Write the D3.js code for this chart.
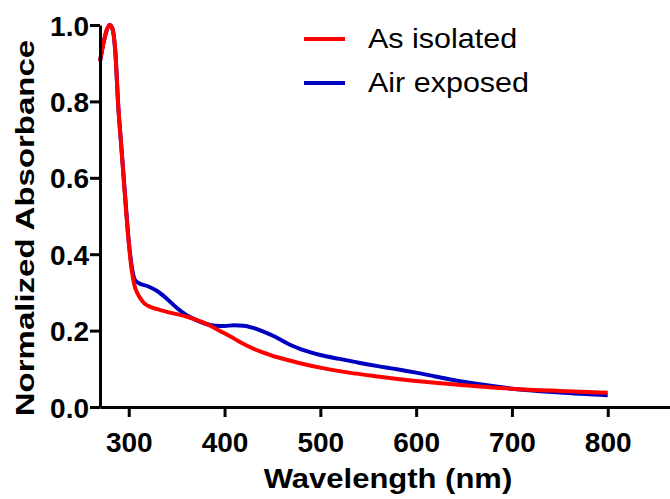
<!DOCTYPE html>
<html>
<head>
<meta charset="utf-8">
<script src="https://cdn.jsdelivr.net/npm/d3@7"></script>
<style>
  body { margin: 0; background: #fff; }
  svg { display: block; font-family: "Liberation Sans", Arial, sans-serif; }
</style>
</head>
<body>
<svg width="670" height="499"></svg>
<script>
(function () {
    "use strict";

    // Wavelength (nm) / normalized absorbance
    var isolatedNm = [270, 273, 276, 280, 283, 286, 289, 292, 296, 300, 303, 306, 309, 312, 316, 320,
        330, 340, 350, 360, 370, 380, 390, 400, 410, 420, 430, 440, 450, 460, 480, 500, 530, 560, 600,
        650, 700, 750, 800];
    var isolatedAbs = [0.905, 0.945, 0.978, 1.0, 0.99, 0.93, 0.79, 0.69, 0.555, 0.43, 0.36, 0.318, 0.298,
        0.285, 0.272, 0.265, 0.256, 0.249, 0.243, 0.237, 0.229, 0.219, 0.206, 0.193, 0.179, 0.165, 0.153,
        0.143, 0.134, 0.127, 0.114, 0.103, 0.09, 0.08, 0.068, 0.057, 0.048, 0.042, 0.037];

    var exposedNm = [270, 273, 276, 280, 283, 286, 289, 292, 296, 300, 303, 306, 310, 320, 330, 340, 350,
        360, 370, 380, 390, 400, 410, 420, 430, 440, 450, 460, 470, 480, 490, 500, 520, 540, 560, 580,
        600, 620, 640, 670, 700, 750, 800];
    var exposedAbs = [0.905, 0.945, 0.978, 1.0, 0.99, 0.93, 0.79, 0.69, 0.56, 0.435, 0.37, 0.335, 0.325,
        0.316, 0.303, 0.283, 0.26, 0.241, 0.228, 0.218, 0.213, 0.212, 0.214, 0.213, 0.207, 0.198, 0.187,
        0.174, 0.161, 0.151, 0.143, 0.136, 0.126, 0.116, 0.107, 0.099, 0.09, 0.08, 0.07, 0.058, 0.048,
        0.038, 0.031];

    var xTicks = [300, 400, 500, 600, 700, 800];
    var yTicks = [0.0, 0.2, 0.4, 0.6, 0.8, 1.0];

    var seriesNames = ['As isolated', 'Air exposed'];
    var seriesColors = ['#ff0000', '#0000c0'];

    var svg = d3.select('svg');

    var x = d3.scaleLinear().domain([270, 865]).range([100, 670]);
    var y = d3.scaleLinear().domain([0, 1]).range([407, 25]);

    var line = d3.line()
        .x(function (d) { return x(d[0]); })
        .y(function (d) { return y(d[1]); })
        .curve(d3.curveMonotoneX);

    var series = [d3.zip(isolatedNm, isolatedAbs), d3.zip(exposedNm, exposedAbs)];

    // Draw blue first so red sits on top where they overlap
    [1, 0].forEach(function (i) {
        svg.append('path')
            .datum(series[i])
            .attr('fill', 'none')
            .attr('stroke', seriesColors[i])
            .attr('stroke-width', 4)
            .attr('stroke-linejoin', 'round')
            .attr('d', line);
    });

    // X axis
    var xAxis = svg.append('g')
        .attr('transform', 'translate(0,' + y(0) + ')')
        .call(d3.axisBottom(x).tickValues(xTicks).tickSize(10).tickPadding(15).tickSizeOuter(0));

    // Y axis
    var yAxis = svg.append('g')
        .attr('transform', 'translate(' + x(270) + ',0)')
        .call(d3.axisLeft(y).tickValues(yTicks).tickSize(10).tickPadding(1).tickSizeOuter(0)
            .tickFormat(d3.format('.1f')));

    [xAxis, yAxis].forEach(function (ax) {
        ax.select('.domain').attr('stroke', '#000').attr('stroke-width', 3);
        ax.selectAll('.tick line').attr('stroke', '#000').attr('stroke-width', 3);
        ax.selectAll('.tick text')
            .attr('fill', '#000')
            .style('font-family', '"Liberation Sans", Arial, sans-serif')
            .style('font-weight', 'bold')
            .style('font-size', '28px');
    });
    yAxis.selectAll('.tick text').attr('dy', '0.36em');

    // Axis titles (glyphs in the original are a bit wider than tall)
    svg.append('text')
        .attr('transform', 'translate(388,488) scale(1,0.9)')
        .attr('text-anchor', 'middle')
        .style('font-weight', 'bold')
        .style('font-size', '31px')
        .text('Wavelength (nm)');

    svg.append('text')
        .attr('transform', 'translate(34,228) rotate(-90) scale(1,0.8)')
        .attr('text-anchor', 'middle')
        .style('font-weight', 'bold')
        .style('font-size', '33px')
        .text('Normalized Absorbance');

    // Legend
    var legend = svg.append('g').attr('class', 'legend');
    seriesNames.forEach(function (name, i) {
        var cy = 39 + i * 44;
        legend.append('line')
            .attr('x1', 304).attr('x2', 345)
            .attr('y1', cy).attr('y2', cy)
            .attr('stroke', seriesColors[i])
            .attr('stroke-width', 4);
        legend.append('text')
            .attr('transform', 'translate(368,' + (cy + 9) + ') scale(1,0.92)')
            .style('font-size', '30.5px')
            .text(name);
    });
})();
</script>
</body>
</html>
